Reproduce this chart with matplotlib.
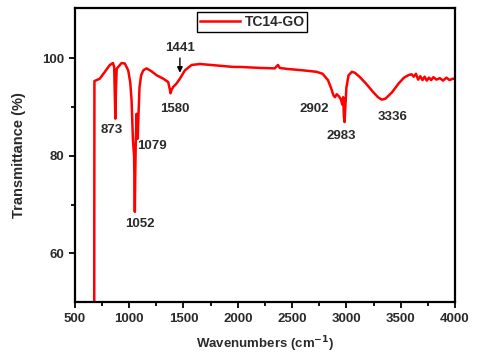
import matplotlib
matplotlib.use("Agg")
import matplotlib.pyplot as plt
from matplotlib.ticker import MultipleLocator, FixedLocator

plt.rcParams['font.family'] = ['Liberation Sans', 'DejaVu Sans']

wavenumber = [678, 680, 700, 730, 776, 822, 850, 862, 868, 873,
              878, 885, 899, 930, 960, 991, 1010, 1022, 1035, 1045,
              1049, 1052, 1055, 1060, 1068, 1074, 1079, 1085, 1095, 1110,
              1130, 1160, 1206, 1252, 1313, 1359, 1372, 1381, 1390, 1405,
              1436, 1467, 1513, 1575, 1651, 1805, 1958, 2020, 2200, 2340,
              2360, 2370, 2385, 2450, 2600, 2725, 2780, 2830, 2860, 2880,
              2895, 2910, 2930, 2950, 2962, 2970, 2977, 2983, 2990, 3000,
              3020, 3050, 3078, 3120, 3180, 3240, 3290, 3325, 3360, 3420,
              3480, 3530, 3570, 3600, 3620, 3640, 3660, 3680, 3700, 3720,
              3740, 3760, 3780, 3800, 3830, 3860, 3890, 3920, 3950, 3980,
              4000]
transmittance = [45.0, 95.3, 95.5, 95.8, 97.2, 98.6, 99.0, 98.2, 92.0, 87.6,
                 93.5, 97.8, 98.2, 99.0, 98.9, 97.5, 95.0, 91.3, 83.0, 80.0,
                 74.0, 68.5, 75.0, 82.0, 88.6, 86.0, 83.5, 88.0, 94.0, 96.5,
                 97.5, 97.9, 97.3, 96.5, 95.8, 95.1, 93.8, 92.8, 93.5, 94.1,
                 94.8, 95.8, 97.5, 98.6, 98.8, 98.5, 98.2, 98.2, 98.0, 97.9,
                 98.4, 98.6, 98.0, 97.8, 97.5, 97.2, 96.8, 95.5, 93.8, 92.4,
                 92.0, 92.6, 92.2, 91.5, 90.5, 92.0, 88.0, 86.9, 90.0, 94.0,
                 96.5, 97.2, 97.0, 96.2, 94.8, 93.2, 92.0, 91.5, 91.7, 93.0,
                 94.8, 96.0, 96.5, 96.7, 96.2, 96.8, 95.6, 96.3, 95.5, 96.2,
                 95.4, 96.0, 95.5, 96.1, 95.6, 95.9, 95.4, 96.0, 95.5, 95.8,
                 95.7]

peak_labels = ['873', '1079', '1580', '1052', '2902', '2983', '3336']
peak_label_x = [838, 1214, 1421, 1099, 2701, 2952, 3429]
peak_label_y = [85.2, 81.9, 89.5, 66.1, 89.5, 84.1, 88.0]

arrow_label = '1441'
arrow_x = 1467
arrow_text_y = 102.1
arrow_tip_y = 97.0

TXT = '#2a2a2a'

fig = plt.figure(figsize=(4.8, 3.58), dpi=100)
ax = fig.add_axes([0.156, 0.156, 0.792, 0.822])

ax.plot(wavenumber, transmittance, color='#ff0000', linewidth=1.8, label='TC14-GO')

for t, x, y in zip(peak_labels, peak_label_x, peak_label_y):
    ax.text(x, y, t, ha='center', va='center', fontsize=9.5, fontweight='bold', color=TXT)

ax.annotate(arrow_label, xy=(arrow_x, arrow_tip_y), xytext=(arrow_x, arrow_text_y),
            ha='center', va='center', fontsize=9.5, fontweight='bold', color=TXT,
            arrowprops=dict(arrowstyle='-|>', color='black', lw=1.0,
                            shrinkA=1, shrinkB=0, mutation_scale=8))

ax.set_xlim(500, 4000)
ax.set_ylim(50, 110.3)
ax.xaxis.set_major_locator(MultipleLocator(500))
ax.xaxis.set_minor_locator(MultipleLocator(250))
ax.yaxis.set_major_locator(FixedLocator([60, 80, 100]))
ax.yaxis.set_minor_locator(FixedLocator([70, 90]))

ax.tick_params(which='both', direction='out', width=1.3, colors='black',
               labelcolor=TXT, labelsize=9.5, top=False, right=False)
ax.tick_params(which='major', length=4)
ax.tick_params(which='minor', length=3)
for lab in ax.get_xticklabels() + ax.get_yticklabels():
    lab.set_fontweight('bold')
for sp in ax.spines.values():
    sp.set_linewidth(1.6)

ax.set_xlabel('Wavenumbers (cm$^{\\mathbf{-1}}$)', fontsize=9.5, fontweight='bold',
              color=TXT, labelpad=7)
ax.set_ylabel('Transmittance (%)', fontsize=10.5, fontweight='bold', color=TXT,
              labelpad=12)

leg = ax.legend(loc='upper left', bbox_to_anchor=(0.322, 0.986),
                prop={'weight': 'bold', 'size': 10}, frameon=True, fancybox=False,
                framealpha=1, edgecolor='black', handlelength=2.9, borderpad=0.2,
                handletextpad=0.3, borderaxespad=0)
leg.get_frame().set_linewidth(1.0)
for txt in leg.get_texts():
    txt.set_color(TXT)

fig.savefig('out.png', dpi=100)
